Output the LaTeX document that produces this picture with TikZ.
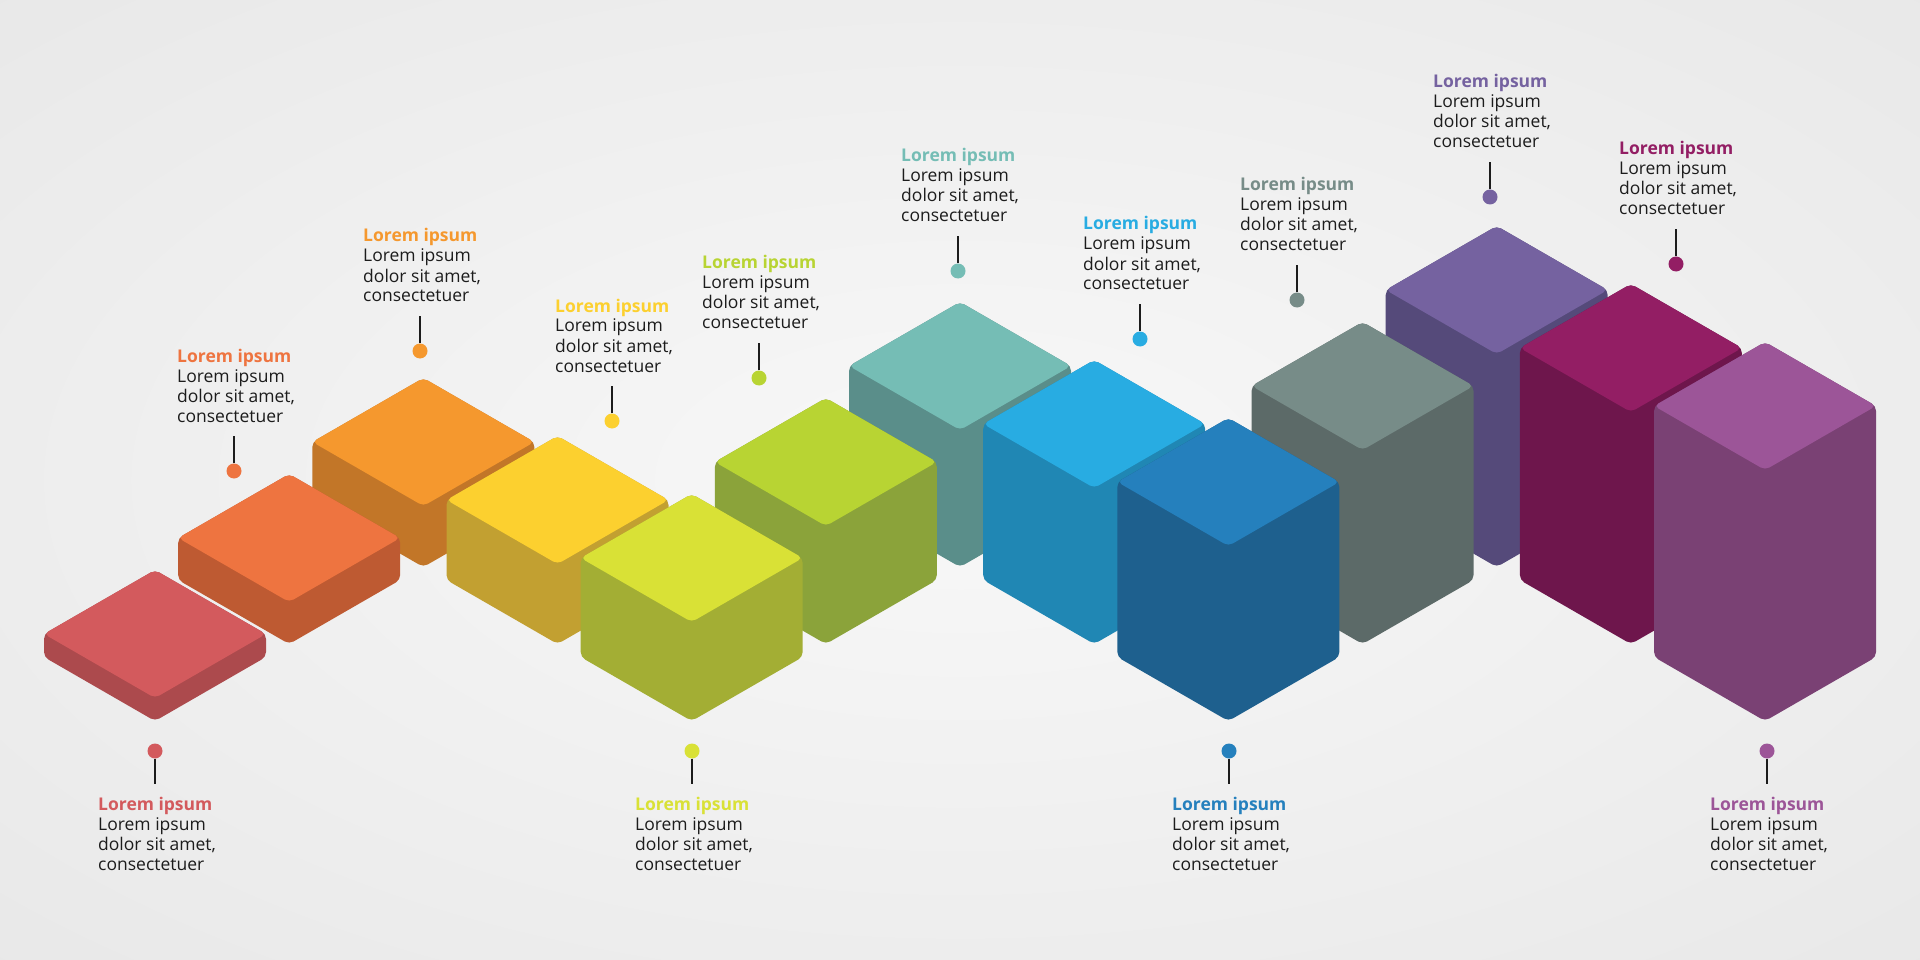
\documentclass[tikz,border=0pt]{standalone}
\usepackage{fontspec}
\setmainfont{Open Sans}
\definecolor{bgin}{HTML}{F8F8F8}
\definecolor{bgout}{HTML}{E2E2E2}
\definecolor{txt}{HTML}{1C1C1C}
\definecolor{tA}{HTML}{D35A5D}\definecolor{sA}{HTML}{AC4A4D}
\definecolor{tB}{HTML}{EE7440}\definecolor{sB}{HTML}{BE5A32}
\definecolor{tC}{HTML}{F5982E}\definecolor{sC}{HTML}{C27628}
\definecolor{tD}{HTML}{FCD02F}\definecolor{sD}{HTML}{C2A031}
\definecolor{tE}{HTML}{D9E136}\definecolor{sE}{HTML}{A3AE34}
\definecolor{tF}{HTML}{B8D433}\definecolor{sF}{HTML}{8BA33A}
\definecolor{tG}{HTML}{75BDB5}\definecolor{sG}{HTML}{5A8E8A}
\definecolor{tH}{HTML}{28ACE2}\definecolor{sH}{HTML}{2087B4}
\definecolor{tI}{HTML}{2580BD}\definecolor{sI}{HTML}{1E608E}
\definecolor{tJ}{HTML}{778C88}\definecolor{sJ}{HTML}{5C6A68}
\definecolor{tK}{HTML}{7562A0}\definecolor{sK}{HTML}{554A7A}
\definecolor{tL}{HTML}{931E64}\definecolor{sL}{HTML}{6E164C}
\definecolor{tM}{HTML}{9C5598}\definecolor{sM}{HTML}{7A4174}
\newcommand{\isobox}[4]{%
  \pgfmathsetmacro{\cx}{155+134.17*(#1-1)}%
  \pgfmathsetmacro{\dd}{23+19*(#1-1)}%
  \pgfmathsetmacro{\cy}{721-77*#2-64-\dd}%
  \fill[#4, rounded corners=5pt] ({\cx-111},{\cy}) -- ({\cx},{\cy-64}) -- ({\cx+111},{\cy}) -- ({\cx+111},{\cy+\dd}) -- ({\cx},{\cy+64+\dd}) -- ({\cx-111},{\cy+\dd}) -- cycle;
  \fill[#3, rounded corners=5pt] ({\cx-111},{\cy}) -- ({\cx},{\cy-64}) -- ({\cx+111},{\cy}) -- ({\cx},{\cy+64}) -- cycle;
}
\newcommand{\lbody}[1]{\begin{tabular}[t]{@{}l@{}}\textcolor{#1}{\bfseries Lorem ipsum}\\Lorem ipsum\\dolor sit amet,\\consectetuer\end{tabular}}
\newcommand{\lbltop}[4]{%
  \node[dotnode, fill=#4] (d#1) at (#2,#3) {};
  \coordinate (e#1) at (#2,{#3-35});
  \draw[stem] (d#1.north) -- (e#1);
  \node[lbl] (t#1) at ({#2-57},{#3-109}) {\lbody{#4}};
}
\newcommand{\lblbot}[4]{%
  \node[dotnode, fill=#4] (d#1) at (#2,#3) {};
  \coordinate (e#1) at (#2,{#3+33});
  \draw[stem] (d#1.south) -- (e#1);
  \node[lbl] (t#1) at ({#2-57},{#3+59}) {\lbody{#4}};
}
\begin{document}
\begin{tikzpicture}[x=1pt,y=-1pt,
  dotnode/.style={circle, inner sep=0pt, minimum size=15pt},
  stem/.style={line width=1.7pt, txt},
  lbl/.style={anchor=base west, inner sep=0pt, text=txt, font=\fontsize{17.5}{20}\selectfont}]
\useasboundingbox (0,0) rectangle (1920,960);
\begin{scope}
  \clip (0,0) rectangle (1920,960);
  \shade[inner color=bgin, outer color=bgout] (-960,-480) rectangle (2880,1440);
\end{scope}
% back row (level 2)
\isobox{3}{2}{tC}{sC}
\isobox{7}{2}{tG}{sG}
\isobox{11}{2}{tK}{sK}
% middle row (level 1)
\isobox{2}{1}{tB}{sB}
\isobox{4}{1}{tD}{sD}
\isobox{6}{1}{tF}{sF}
\isobox{8}{1}{tH}{sH}
\isobox{10}{1}{tJ}{sJ}
\isobox{12}{1}{tL}{sL}
% front row (level 0)
\isobox{1}{0}{tA}{sA}
\isobox{5}{0}{tE}{sE}
\isobox{9}{0}{tI}{sI}
\isobox{13}{0}{tM}{sM}
% labels
\lblbot{1}{155}{751}{tA}
\lbltop{2}{234}{471}{tB}
\lbltop{3}{420}{351}{tC}
\lbltop{4}{612}{421}{tD}
\lblbot{5}{692}{751}{tE}
\lbltop{6}{759}{378}{tF}
\lbltop{7}{958}{271}{tG}
\lbltop{8}{1140}{339}{tH}
\lblbot{9}{1229}{751}{tI}
\lbltop{10}{1297}{300}{tJ}
\lbltop{11}{1490}{197}{tK}
\lbltop{12}{1676}{264}{tL}
\lblbot{13}{1767}{751}{tM}
\end{tikzpicture}
\end{document}
